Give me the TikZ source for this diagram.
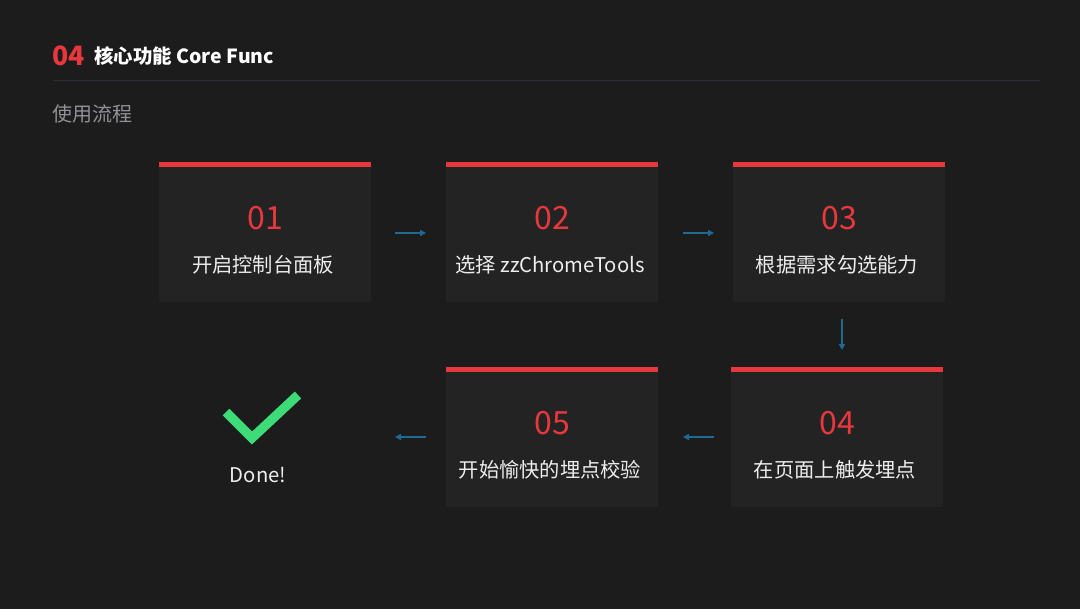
\documentclass[tikz,border=0pt]{standalone}
\usepackage{fontspec}
\setmainfont{Noto Sans CJK SC}
\newfontfamily\heavyfont{Noto Sans CJK SC Black}
\usetikzlibrary{arrows.meta,calc}
\definecolor{bgc}{HTML}{1C1C1C}
\definecolor{boxc}{HTML}{232323}
\definecolor{redc}{HTML}{E8373D}
\definecolor{arrc}{HTML}{1E6A92}
\definecolor{linec}{HTML}{2C3139}
\definecolor{grayc}{HTML}{8F9196}
\definecolor{greenc}{HTML}{3DDC78}
\definecolor{textc}{HTML}{EDEDED}
\tikzset{
  stepbox/.style={fill=boxc, draw=none, minimum width=212*0.75pt, minimum height=140*0.75pt, inner sep=0pt},
  numtxt/.style={text=redc, font=\fontsize{24}{28}\selectfont, inner sep=0pt},
  labtxt/.style={text=textc, font=\fontsize{15.2}{18}\selectfont, inner sep=0pt},
  flow/.style={draw=arrc, line width=1.1pt, -{Triangle[length=4.5pt,width=4.5pt]}},
}
\begin{document}
\begin{tikzpicture}[x=0.75pt,y=-0.75pt]
\fill[bgc] (0,0) rectangle (1080,609);
\useasboundingbox (0,0) rectangle (1080,609);
% header
\node[anchor=west, inner sep=0pt, text=redc, font=\fontsize{20}{22}\heavyfont] (hnum) at (52,56) {04};
\node[anchor=west, inner sep=0pt, text=white, font=\fontsize{14.6}{17}\selectfont\bfseries] (htitle) at (94,56) {核心功能 Core Func};
\draw[linec, line width=1pt] (53,80.5) -- (1040,80.5);
\node[anchor=west, inner sep=0pt, text=grayc, font=\fontsize{15}{18}\selectfont] (sub) at (52,114) {使用流程};
% boxes
\foreach \n/\x/\y/\num/\lab in {b1/159/162/01/开启控制台面板, b2/446/162/02/选择 zzChromeTools, b3/733/162/03/根据需求勾选能力, b5/446/367/05/开始愉快的埋点校验, b4/731/367/04/在页面上触发埋点}{
  \node[stepbox, anchor=north west] (\n) at (\x,\y) {};
  \fill[redc] (\x,\y) rectangle ++(212,5);
  \node[numtxt] (\n num) at ($(\x,\y)+(106,56)$) {\num};
  \node[labtxt] (\n lab) at ($(\x,\y)+(104,103)$) {\lab};
}
% done
\coordinate (c1) at (226,412);
\coordinate (c2) at (252,438);
\coordinate (c3) at (298,395);
\draw[greenc, line width=7pt] (c1) -- (c2) -- (c3);
\node[labtxt] (done) at (258,475) {Done!};
% arrows
\coordinate (a1s) at (395,233); \coordinate (a1e) at (426,233);
\coordinate (a2s) at (683,233); \coordinate (a2e) at (714,233);
\coordinate (a3s) at (842,319); \coordinate (a3e) at (842,350);
\coordinate (a4s) at (714,437); \coordinate (a4e) at (683,437);
\coordinate (a5s) at (426,437); \coordinate (a5e) at (395,437);
\draw[flow] (a1s) -- (a1e);
\draw[flow] (a2s) -- (a2e);
\draw[flow] (a3s) -- (a3e);
\draw[flow] (a4s) -- (a4e);
\draw[flow] (a5s) -- (a5e);
\end{tikzpicture}
\end{document}
